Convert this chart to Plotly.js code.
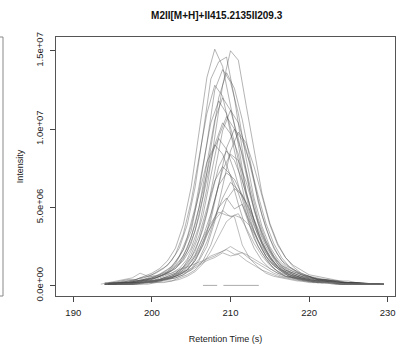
<!DOCTYPE html>
<html>
<head>
<meta charset="utf-8">
<script src="https://cdn.plot.ly/plotly-3.0.1.min.js"></script>
<style>html,body{margin:0;padding:0;background:#fff;}#chart{width:405px;height:349px;}</style>
</head>
<body>
<div id="chart"></div>
<script>
// Retention time grids (s)
const timeA = [193,194,195,196,197,198,199,200,201,202,203,204,205,206,207,208,209,210,211,212,213,214,215,216,217,218,219,220,221,222,223,224,225,226,227,228,229];
const timeB = [193.5,194.5,195.5,196.5,197.5,198.5,199.5,200.5,201.5,202.5,203.5,204.5,205.5,206.5,207.5,208.5,209.5,210.5,211.5,212.5,213.5,214.5,215.5,216.5,217.5,218.5,219.5,220.5,221.5,222.5,223.5,224.5,225.5,226.5,227.5,228.5,229.5];

// Intensities in units of 1e5
const runA01 = [null,2,2,3,4,4,6,8,11,16,24,39,63,98,133,151,140,115,90,60,41,27,18,13,10,8,6,5,4,3,3,2,2,2,1,1,1];
const runA02 = [null,1,2,2,3,3,4,6,7,10,15,23,35,60,91,125,138,130,110,81,56,38,25,17,12,9,7,6,4,4,3,2,2,2,1,1,1];
const runA03 = [null,1,1,2,2,3,3,4,6,8,11,16,24,38,62,96,128,150,144,115,86,59,40,27,18,13,10,7,6,5,4,3,3,2,2,1,1];
const runA04 = [null,1,2,2,3,4,5,7,10,13,20,33,54,83,110,128,121,98,74,51,35,23,15,11,8,6,5,4,3,3,2,2,2,1,1,1,1];
const runA05 = [null,1,1,2,2,3,4,5,6,9,13,19,31,50,78,106,120,112,94,70,48,32,22,14,10,8,6,5,4,3,3,2,2,1,1,1,1];
const runA06 = [null,1,1,1,2,2,3,3,4,6,8,12,18,29,47,73,99,112,104,87,65,45,30,20,13,10,7,6,4,4,3,2,2,2,1,1,1];
const runA07 = [null,1,1,1,2,2,3,4,6,8,11,17,27,44,68,90,104,97,84,60,42,28,19,12,9,7,5,4,3,3,2,2,2,1,1,1,1];
const runA08 = [null,null,1,1,1,1,2,2,3,4,5,7,10,16,25,41,64,86,98,91,76,57,39,26,18,12,8,6,5,4,3,3,2,2,1,1,1];
const runA09 = [null,1,1,2,2,3,4,5,7,9,14,23,38,58,79,90,84,70,52,36,24,16,11,8,6,5,4,3,2,2,2,1,1,1,1,1,1];
const runA10 = [null,1,1,1,1,2,2,3,3,5,6,9,13,22,35,55,74,84,80,66,49,34,23,15,10,7,5,4,3,3,2,2,1,1,1,1,1];
const runA11 = [null,1,1,1,1,2,2,3,4,6,8,12,20,32,49,67,76,71,59,44,30,21,14,9,6,5,4,3,2,2,2,1,1,1,1,1,1];
const runA12 = [null,1,1,1,1,1,2,2,3,4,5,7,11,17,28,43,56,66,61,53,38,27,18,12,8,6,4,3,3,2,2,1,1,1,1,1,1];
const runA13 = [null,null,1,1,1,2,2,3,4,5,7,10,15,23,33,42,48,44,46,37,27,19,13,9,6,5,4,3,2,2,2,1,1,1,1,1,1];
const runA14 = [null,null,1,1,2,2,3,3,4,5,7,9,11,14,17,19,22,25,22,20,17,14,11,8,6,5,4,3,2,2,2,1,1,1,1,1,1];
const runA15 = [null,1,1,1,2,2,2,3,4,5,6,8,10,13,16,18,21,19,20,16,13,10,8,6,5,4,3,2,2,2,1,1,1,1,1,1,1];
const runB16 = [null,2,2,3,3,5,6,8,11,16,24,39,63,97,132,143,146,120,87,60,40,27,18,13,10,8,6,5,4,3,3,2,2,2,1,1,1];
const runB17 = [null,1,1,2,2,3,4,5,7,10,14,22,35,57,88,120,136,126,106,79,54,37,24,16,12,9,7,5,4,4,3,2,2,2,1,1,1];
const runB18 = [null,1,2,2,3,3,4,6,9,12,19,31,50,77,104,118,110,92,68,47,32,21,14,10,8,6,5,4,3,3,2,2,2,1,1,1,1];
const runB19 = [null,1,1,2,2,2,3,4,6,8,11,17,28,45,70,95,108,100,84,63,43,29,19,13,9,7,5,4,3,3,2,2,2,1,1,1,1];
const runB20 = [null,null,1,1,1,2,2,3,4,5,7,10,16,26,42,65,88,100,93,78,58,40,27,18,12,9,6,5,4,3,3,2,2,1,1,1,1];
const runB21 = [null,1,1,2,2,3,4,5,7,10,15,24,39,61,83,94,87,73,55,38,25,17,11,8,6,5,4,3,2,2,2,1,1,1,1,1,1];
const runB22 = [null,1,1,1,2,2,3,3,5,6,9,14,22,36,56,76,86,80,67,50,34,23,15,10,7,6,4,3,3,2,2,2,1,1,1,1,1];
const runB23 = [null,1,1,1,1,2,2,3,4,5,8,12,19,31,46,64,72,68,58,41,29,19,13,9,6,5,4,3,2,2,2,1,1,1,1,1,1];
const runB24 = [null,null,1,1,1,1,1,2,2,3,5,7,10,16,26,40,55,62,58,48,36,25,17,11,7,5,4,3,2,2,2,1,1,1,1,1,1];
const runB25 = [null,1,1,1,1,2,2,3,4,5,7,10,16,26,38,50,56,49,52,40,28,19,13,9,6,4,3,3,2,2,1,1,1,1,1,1,1];
const runB26 = [null,1,1,1,1,2,2,3,4,6,9,13,20,31,40,47,45,44,26,17,12,8,6,5,4,3,3,2,2,2,1,1,1,1,1,1,1];
const runB27 = [null,null,1,1,1,1,2,2,3,3,4,6,9,14,22,32,41,45,43,38,29,21,14,10,7,5,4,3,2,2,2,1,1,1,1,1,1];
const runB28 = [1,2,3,4,5,8,6,6,7,8,10,12,14,16,19,21,23,20,21,17,14,11,8,6,5,4,3,3,2,2,2,1,1,1,1,1,1];
// near-zero trace
const tinyTime = [206.5,207.5,208.3,208.7,209.1,210,211,212,213,213.6];
const tinyInt  = [0.2,0.2,0.2,null,0.2,0.2,0.2,0.2,0.2,0.2];

const yTickVals = [0,50,100,150];
const yTickText = ['0.0e+00','5.0e+06','1.0e+07','1.5e+07'];
const xTickVals = [190,200,210,220,230];

const runsA = [runA01,runA02,runA03,runA04,runA05,runA06,runA07,runA08,runA09,runA10,runA11,runA12,runA13,runA14,runA15];
const runsB = [runB16,runB17,runB18,runB19,runB20,runB21,runB22,runB23,runB24,runB25,runB26,runB27,runB28];

const dark = 'rgba(70,70,70,0.45)';
const light = 'rgba(120,120,120,0.55)';
const traces = [];
runsA.forEach((r,i)=>traces.push({x:timeA,y:r,type:'scatter',mode:'lines',connectgaps:false,
  line:{color:(i>=12?light:dark),width:0.9},hoverinfo:'skip'}));
runsB.forEach((r,i)=>traces.push({x:timeB,y:r,type:'scatter',mode:'lines',connectgaps:false,
  line:{color:(i>=10?light:dark),width:0.9},hoverinfo:'skip'}));
traces.push({x:tinyTime,y:tinyInt,type:'scatter',mode:'lines',connectgaps:false,
  line:{color:'rgba(150,150,150,0.8)',width:1},hoverinfo:'skip'});

const fnt = 'Liberation Sans, Arial, Helvetica, sans-serif';
const layout = {
  width:405, height:349,
  margin:{l:56,r:10,t:37,b:53},
  paper_bgcolor:'#fff', plot_bgcolor:'#fff',
  showlegend:false,
  font:{family:fnt,size:9.5,color:'#222'},
  title:{text:'<b>M2II[M+H]+II415.2135II209.3</b>',font:{family:fnt,size:10,color:'#111'},
    x:0.535,xanchor:'center',y:0.957,yanchor:'middle'},
  xaxis:{range:[187.8,230.93],tickvals:xTickVals,ticks:'outside',ticklen:5,tickcolor:'#444',
    ticklabelstandoff:3,
    showline:true,mirror:true,linecolor:'#555',linewidth:1,showgrid:false,zeroline:false,
    tickfont:{family:fnt,size:9.5,color:'#222'},
    title:{text:'Retention Time (s)',font:{family:fnt,size:9,color:'#222'},standoff:18}},
  yaxis:{range:[-6.57,158.8],tickvals:yTickVals,ticktext:yTickText,tickangle:-90,ticks:'outside',ticklen:5,tickcolor:'#444',
    ticklabelstandoff:3,
    showline:true,mirror:true,linecolor:'#555',linewidth:1,showgrid:false,zeroline:false,
    tickfont:{family:fnt,size:9.5,color:'#222'},
    title:{text:'Intensity',font:{family:fnt,size:9,color:'#222'},standoff:9}},
  shapes:[{type:'rect',xref:'paper',yref:'paper',x0:-0.2,x1:-0.1563,y0:0,y1:1,
    line:{color:'#888',width:1},fillcolor:'rgba(0,0,0,0)'}]
};
Plotly.newPlot('chart',traces,layout,{staticPlot:true,displayModeBar:false});
</script>
</body>
</html>
